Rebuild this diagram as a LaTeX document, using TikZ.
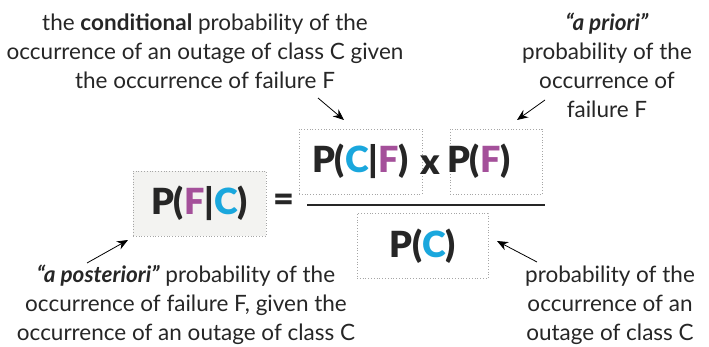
\documentclass[tikz,border=0pt]{standalone}
\usepackage{fontspec}
\setmainfont{Lato}
\newfontfamily\heavyfont{Lato Black}
\usepackage{tikz}
\usetikzlibrary{arrows.meta,positioning}
\usepackage{xcolor}
\definecolor{ink}{HTML}{262626}
\definecolor{fcol}{HTML}{A4509A}
\definecolor{ccol}{HTML}{1AA7DD}
\definecolor{boxfill}{HTML}{F3F3F1}
\newcommand{\vF}{\textcolor{fcol}{F}}
\newcommand{\vC}{\textcolor{ccol}{C}}

\begin{document}
\begin{tikzpicture}[
  x=1pt, y=-1pt,
  text=ink,
  font=\fontsize{22.5}{29}\selectfont,
  frm/.style={draw=gray!70, dotted, thick, inner sep=0pt,
              minimum height=65pt, font=\fontsize{36}{40}\heavyfont},
  note/.style={align=center},
  arr/.style={-{Stealth[length=11pt, width=9pt]}, thick, draw=black}
]
\useasboundingbox (0,0) rectangle (709,347);
% formula
\node[frm, fill=boxfill, minimum width=133pt] (fc) at (199.5,203.5) {P(\vF|\vC)};
\node (eq) at (284,203) {\fontsize{36}{40}\heavyfont =};
\node[frm, minimum width=123pt] (cf) at (360.5,161.5) {P(\vC|\vF)};
\node[frm, minimum width=92pt, text width=92pt, align=left] (pf) at (496,161.5)
  {\hspace*{-3pt}P(\vF)};
\node (times) at (430,165) {\fontsize{36}{40}\heavyfont x};
\node[frm, minimum width=131pt] (pc) at (422.5,246) {P(\vC)};
\coordinate (barL) at (307,205);
\coordinate (barR) at (545,205);
\draw[ink, line width=1.4pt] (barL) -- (barR);
% notes
\node[note] (condnote) at (205,51)
  {the \textbf{conditional} probability of the\\
   occurrence of an outage of class C given\\
   the occurrence of failure F};
\node[note] (priornote) at (607,65)
  {\textbf{\textit{``a priori''}}\\ probability of the\\ occurrence of\\ failure F};
\node[note] (postnote) at (186,305)
  {\textbf{\textit{``a posteriori''}} probability of the\\
   occurrence of failure F, given the\\
   occurrence of an outage of class C};
\node[note] (pcnote) at (610,305)
  {probability of the\\ occurrence of an\\ outage of class C};
% arrows
\coordinate (t1) at (318,98);
\coordinate (h1) at (344,120);
\coordinate (t2) at (545,100);
\coordinate (h2) at (517,120);
\coordinate (t3) at (87,263);
\coordinate (h3) at (128,240);
\coordinate (t4) at (537,262);
\coordinate (h4) at (497,241);
\draw[arr] (t1) -- (h1);
\draw[arr] (t2) -- (h2);
\draw[arr] (t3) -- (h3);
\draw[arr] (t4) -- (h4);
\end{tikzpicture}
\end{document}
